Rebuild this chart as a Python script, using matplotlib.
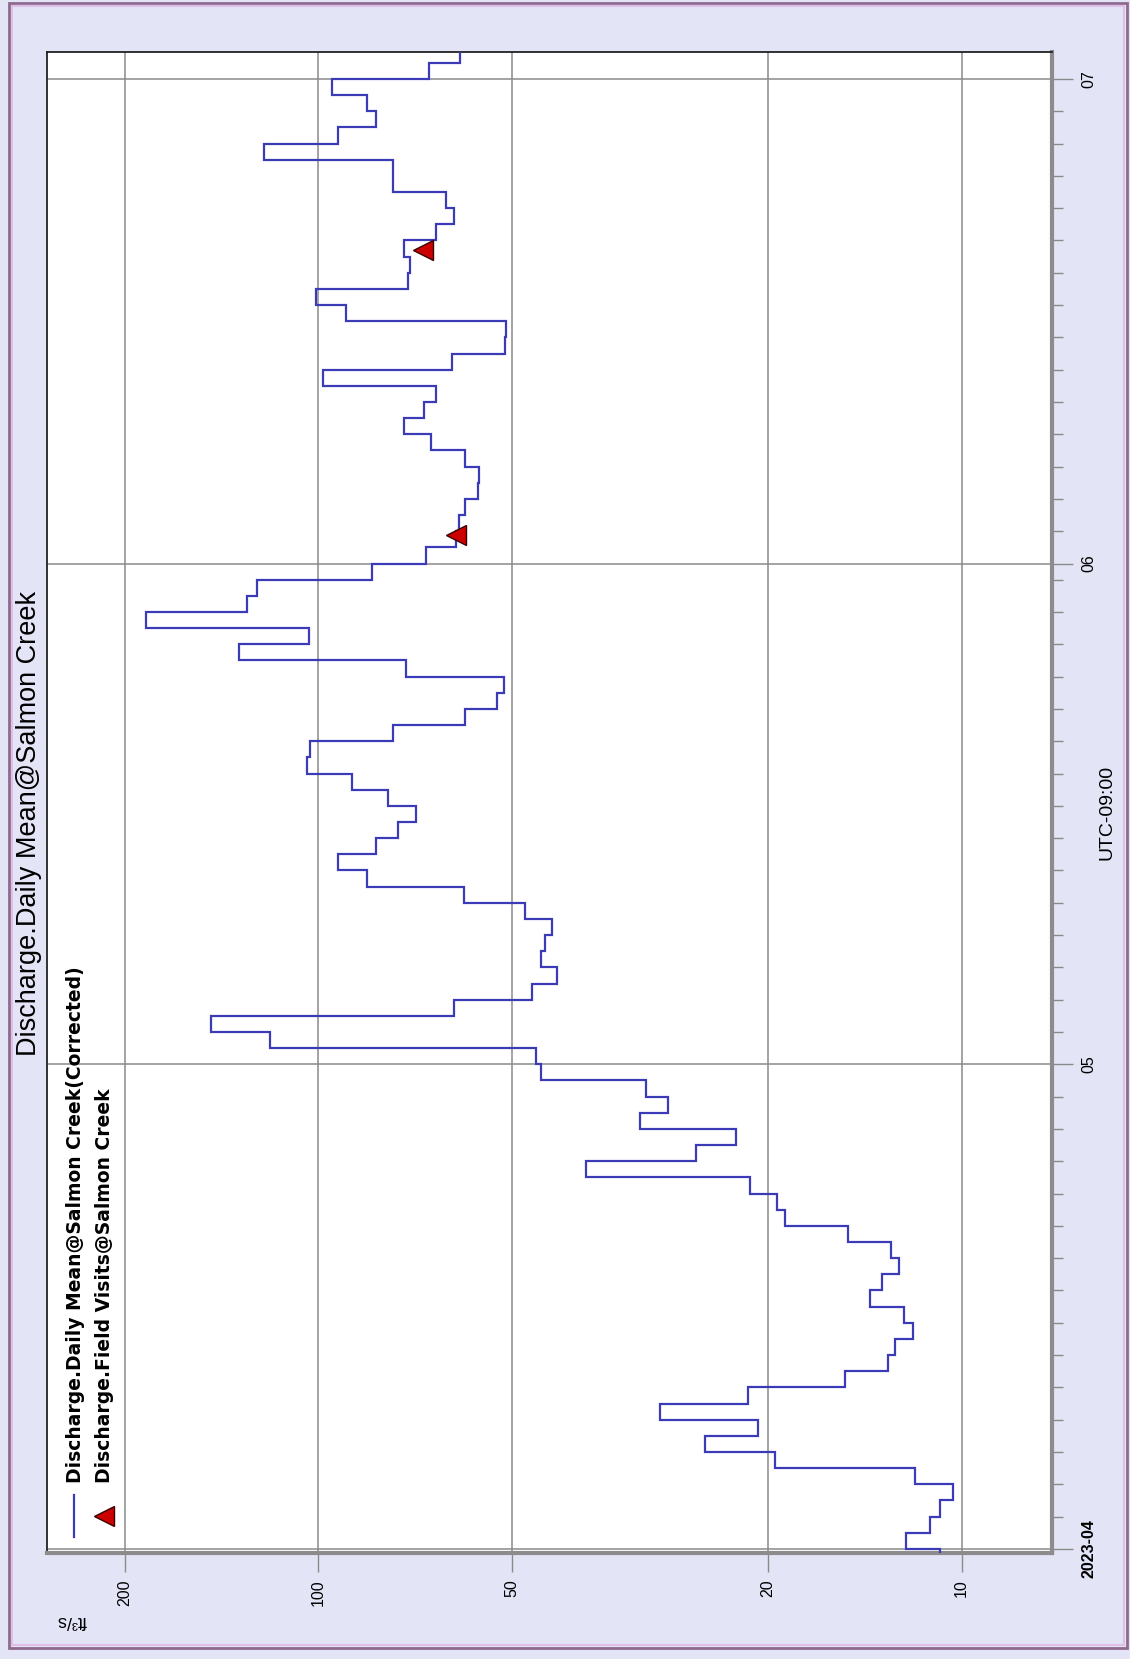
import numpy as np
import pandas as pd
import matplotlib
matplotlib.use('Agg')
import matplotlib.pyplot as plt
import matplotlib.dates as mdates
from matplotlib.patches import Rectangle
from matplotlib.lines import Line2D

plt.rcParams['font.family'] = ['Liberation Sans', 'DejaVu Sans']

# daily mean discharge, ft3/s (one value per day, first value is 2023-03-31)
first_day = '2023-03-31'
flow_mar = [10.8]
flow_apr = [12.2, 11.2, 10.8, 10.3, 11.8, 19.5, 25.1, 20.7, 29.4, 21.5,
            15.2, 13.0, 12.7, 11.9, 12.3, 13.9, 13.3, 12.5, 12.9, 15.0,
            18.8, 19.4, 21.3, 38.3, 25.9, 22.4, 31.6, 28.6, 31.0, 45.1]
flow_may = [45.9, 118.7, 147.0, 61.6, 46.6, 42.6, 45.0, 44.5, 43.3, 47.7,
            59.4, 84.0, 93.3, 81.3, 75.3, 70.6, 78.0, 88.5, 104.0, 102.9,
            76.6, 59.2, 52.7, 51.5, 73.1, 132.7, 103.4, 185.4, 129.0, 124.3,
            82.6]
flow_jun = [67.9, 61.2, 60.5, 59.1, 56.5, 56.2, 59.1, 66.7, 73.6, 68.4,
            65.6, 98.3, 61.9, 51.3, 51.0, 90.6, 101.0, 72.5, 72.0, 73.6,
            65.6, 61.6, 63.4, 76.6, 76.6, 121.5, 93.3, 81.3, 84.0, 95.3]
flow_jul = [67.4, 60.2]

visit_times = ['2023-06-02 19:00', '2023-06-20 10:00']
visit_values = [61.2, 68.7]

value_ticks = [200, 100, 50, 20, 10]
month_ticks = ['2023-04-01', '2023-05-01', '2023-06-01', '2023-07-01']
month_labels = ['2023-04', '05', '06', '07']

title = 'Discharge.Daily Mean@Salmon Creek'
legend_labels = ['Discharge.Daily Mean@Salmon Creek(Corrected)',
                 'Discharge.Field Visits@Salmon Creek']

W, H = 1130, 1659
bg = '#e4e4f7'
line_color = '#3b3bb8'
grid_color = '#8a8a8a'


def fx(px):
    return px / W


def fy(py):
    return 1 - py / H


flows = flow_mar + flow_apr + flow_may + flow_jun + flow_jul
edges = mdates.date2num(pd.date_range(first_day, periods=len(flows) + 1, freq='D'))

fig = plt.figure(figsize=(W / 100, H / 100), dpi=100, facecolor=bg)
ax = fig.add_axes([fx(47), fy(1553), fx(1052) - fx(47), fy(52) - fy(1553)])
ax.set_facecolor('white')

# chart is drawn turned a quarter turn: values run across, time runs up
ax.stairs(flows, edges, orientation='horizontal', baseline=None,
          color=line_color, lw=1.6, zorder=3)
ax.plot(visit_values, mdates.date2num(pd.to_datetime(visit_times)), ls='none',
        marker='<', ms=15, mfc='#cc0000', mec='#3a0000', mew=1.0, zorder=4)

ax.set_xscale('log')
ax.set_xlim(264, 7.24)
ax.set_ylim(mdates.date2num(pd.Timestamp('2023-03-31 18:00')),
            mdates.date2num(pd.Timestamp('2023-07-02 16:00')))

ax.xaxis.set_ticks(value_ticks)
ax.xaxis.set_ticklabels([str(v) for v in value_ticks])
ax.xaxis.set_minor_locator(matplotlib.ticker.NullLocator())
ax.tick_params(axis='x', which='major', direction='out', length=14, width=1,
               color=grid_color, pad=5, labelsize=11.5, labelrotation=90)

month_pos = mdates.date2num(pd.to_datetime(month_ticks))
ax.yaxis.tick_right()
ax.set_yticks(month_pos)
ax.set_yticklabels(month_labels)
minor_days = [d for d in pd.date_range('2023-04-01', '2023-07-02', freq='D')
              if d.day % 2 == 1 and d.day != 1]
ax.set_yticks(mdates.date2num(minor_days), minor=True)
ax.tick_params(axis='y', which='major', direction='out', length=15, width=1,
               color=grid_color, pad=6, labelsize=11.5)
ax.tick_params(axis='y', which='minor', direction='out', length=8, width=1,
               color=grid_color)
for lab in ax.get_yticklabels():
    lab.set_rotation(90)
    lab.set_va('center')
ax.get_yticklabels()[0].set_fontweight('bold')

ax.grid(which='major', color=grid_color, lw=1.1)
ax.set_axisbelow(True)

for side in ['left', 'top']:
    ax.spines[side].set_color('#222222')
    ax.spines[side].set_linewidth(1.3)
for side in ['right', 'bottom']:
    ax.spines[side].set_color('#8c8c8c')
    ax.spines[side].set_linewidth(3)

# titles and axis captions
fig.text(fx(29), fy(823), title, rotation=90, ha='center', va='center',
         fontsize=19.5)
fig.text(fx(1107), fy(812), 'UTC-09:00', rotation=90, ha='center',
         va='center', fontsize=14)
fig.text(fx(72), fy(1620), 'ft³/s', rotation=180, ha='center', va='center',
         fontsize=13)

# legend, drawn by hand so it can stand on its side
fig.add_artist(Line2D([fx(74), fx(74)], [fy(1537), fy(1495)],
                      color=line_color, lw=1.6))
fig.add_artist(Line2D([fx(104)], [fy(1516)], marker='<', ms=15,
                      mfc='#cc0000', mec='#3a0000', mew=1.0, ls='none'))
fig.text(fx(76), fy(1483), legend_labels[0], rotation=90, ha='center',
         va='bottom', fontsize=13.5, fontweight='bold', family='DejaVu Sans')
fig.text(fx(105), fy(1483), legend_labels[1], rotation=90, ha='center',
         va='bottom', fontsize=13.5, fontweight='bold', family='DejaVu Sans')

# outer frame of the picture
fig.add_artist(Rectangle((fx(9), fy(1648)), fx(1127) - fx(9), fy(3) - fy(1648),
                         transform=fig.transFigure, fill=False,
                         ec='#8e6a8e', lw=2))
fig.add_artist(Rectangle((fx(12), fy(1645)), fx(1124) - fx(12), fy(6) - fy(1645),
                         transform=fig.transFigure, fill=False,
                         ec='#e0bfe6', lw=1.5))

fig.savefig('out.png', dpi=100, facecolor=bg)
